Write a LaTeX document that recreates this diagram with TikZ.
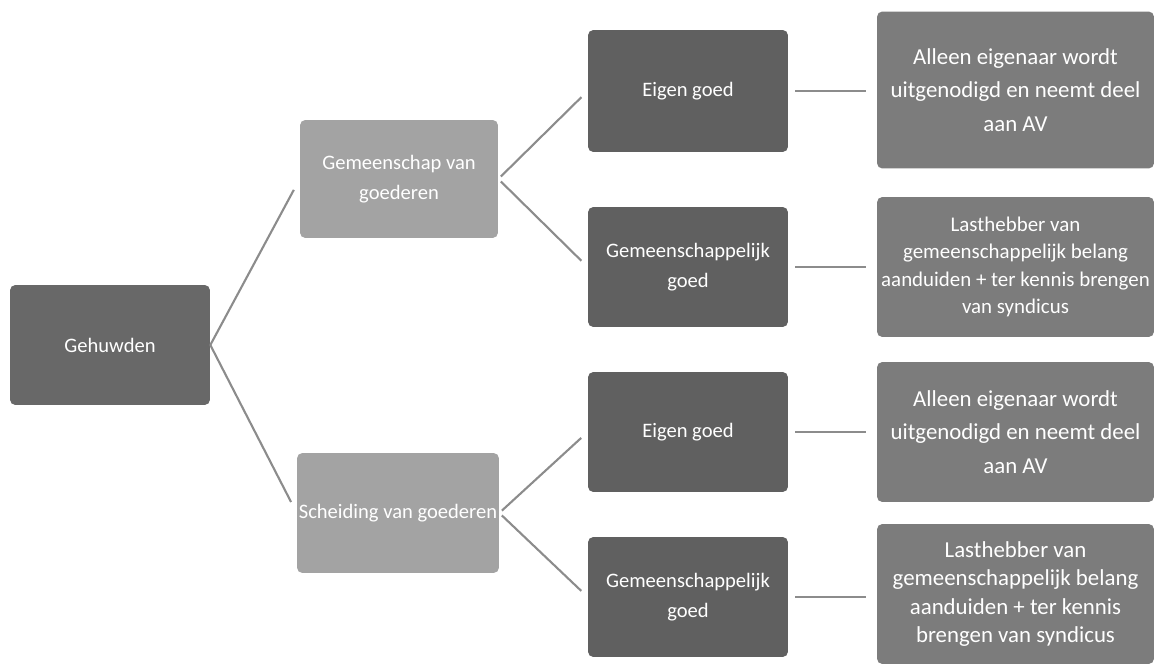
\documentclass[tikz,border=0pt]{standalone}
\usepackage{fontspec}
\setmainfont{Carlito}
\usetikzlibrary{positioning}

\definecolor{rootfill}{RGB}{104,104,104}
\definecolor{midfill}{RGB}{163,163,163}
\definecolor{leaffill}{RGB}{96,96,96}
\definecolor{notefill}{RGB}{124,124,124}
\definecolor{linkgray}{RGB}{140,140,140}

\begin{document}
\begin{tikzpicture}[x=0.02cm,y=-0.02cm]
\tikzstyle{block}=[rectangle, rounded corners=3pt, text=white, align=center, inner sep=1pt, minimum width=4cm, minimum height=2.4cm, font=\fontsize{11.7}{17}\selectfont]
\tikzstyle{note}=[block, fill=notefill, minimum width=5.54cm, font=\fontsize{12.8}{15.5}\selectfont]
\tikzstyle{link}=[draw=linkgray, line width=1.2pt]

\useasboundingbox (0,0) rectangle (1154,665);

% root block
\node[block, fill=rootfill] (geh) at (110,345) {Gehuwden};

% property regimes
\node[block, fill=midfill, minimum width=3.96cm, minimum height=2.36cm] (gem) at (399,179) {Gemeenschap van\\goederen};
\node[block, fill=midfill, minimum width=3.98cm] (sch) at (398,513) {Scheiding van goederen};

% kinds of goods
\node[block, fill=leaffill, minimum height=2.44cm] (eig1) at (688,91) {Eigen goed};
\node[block, fill=leaffill] (gmg1) at (688,267) {Gemeenschappelijk\\goed};
\node[block, fill=leaffill] (eig2) at (688,432) {Eigen goed};
\node[block, fill=leaffill] (gmg2) at (688,597) {Gemeenschappelijk\\goed};

% consequences
\node[note, minimum height=3.14cm, font=\fontsize{13}{19}\selectfont] (res1) at (1015.5,90) {Alleen eigenaar wordt\\uitgenodigd en neemt deel\\aan AV};
\node[note, minimum height=2.8cm, font=\fontsize{11.9}{15.5}\selectfont] (res2) at (1015.5,267) {Lasthebber van\\gemeenschappelijk belang\\aanduiden + ter kennis brengen\\van syndicus};
\node[note, minimum height=2.8cm, font=\fontsize{13}{19}\selectfont] (res3) at (1015.5,432) {Alleen eigenaar wordt\\uitgenodigd en neemt deel\\aan AV};
\node[note, minimum height=2.8cm, font=\fontsize{13}{16}\selectfont] (res4) at (1015.5,594) {Lasthebber van\\gemeenschappelijk belang\\aanduiden + ter kennis\\brengen van syndicus};

% tree links
\draw[link, shorten >=7pt] (geh.east) -- (gem.west);
\draw[link, shorten >=7pt] (geh.east) -- (sch.west);
\draw[link, shorten <=2pt, shorten >=5pt] (gem.east) -- (eig1.west);
\draw[link, shorten <=2pt, shorten >=5pt] (gem.east) -- (gmg1.west);
\draw[link, shorten <=2pt, shorten >=5pt] (sch.east) -- (eig2.west);
\draw[link, shorten <=2pt, shorten >=5pt] (sch.east) -- (gmg2.west);

% horizontal links
\draw[link, shorten <=4pt, shorten >=6pt] (eig1.east) -- (eig1.east -| res1.west);
\draw[link, shorten <=4pt, shorten >=6pt] (gmg1.east) -- (gmg1.east -| res2.west);
\draw[link, shorten <=4pt, shorten >=6pt] (eig2.east) -- (eig2.east -| res3.west);
\draw[link, shorten <=4pt, shorten >=6pt] (gmg2.east) -- (gmg2.east -| res4.west);

\end{tikzpicture}
\end{document}
